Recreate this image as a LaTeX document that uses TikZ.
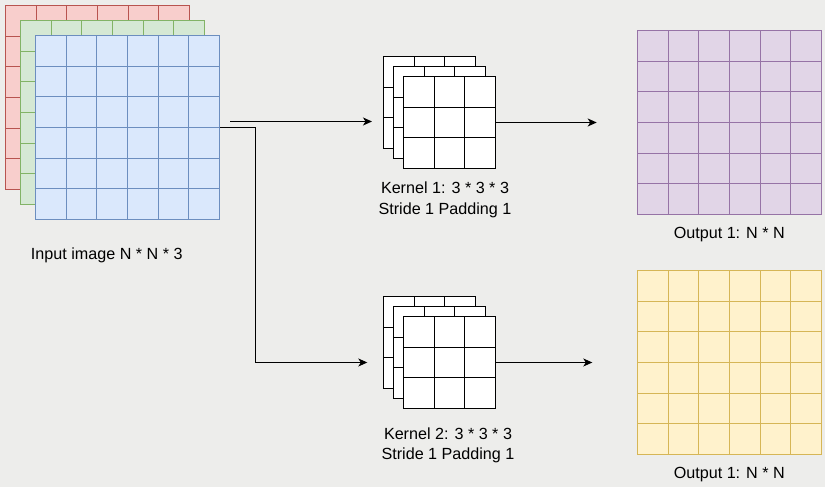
\documentclass[tikz,border=0pt]{standalone}
\usepackage{fontspec}
\setmainfont{Liberation Sans}
\usetikzlibrary{calc,arrows.meta}
\definecolor{bgcol}{RGB}{237,237,235}
\definecolor{redfill}{HTML}{F8CECC}\definecolor{redline}{HTML}{B85450}
\definecolor{greenfill}{HTML}{D5E8D4}\definecolor{greenline}{HTML}{82B366}
\definecolor{bluefill}{HTML}{DAE8FC}\definecolor{blueline}{HTML}{6C8EBF}
\definecolor{purplefill}{HTML}{E1D5E7}\definecolor{purpleline}{HTML}{9673A6}
\definecolor{yellowfill}{HTML}{FFF2CC}\definecolor{yellowline}{HTML}{D6B656}
% grid lines inside a named node, snapped to pixel centres
\newcommand\cellgrid[3]{%
  \pgfpointanchor{#1}{south west}\pgfgetlastxy{\gl}{\gb}%
  \pgfpointanchor{#1}{north east}\pgfgetlastxy{\gr}{\gt}%
  \pgfmathtruncatemacro\lastk{#2-1}%
  \foreach \k in {1,...,\lastk}{%
    \pgfmathsetmacro\gx{(floor((\gl+\k*(\gr-\gl)/#2)/1.00375)+0.5)*1.00375}%
    \pgfmathsetmacro\gy{(floor((\gb+\k*(\gt-\gb)/#2)/1.00375)+0.5)*1.00375}%
    \draw[draw=#3, line width=1.35bp] (\gx pt,\gb) -- (\gx pt,\gt);
    \draw[draw=#3, line width=1.35bp] (\gl,\gy pt) -- (\gr,\gy pt);
  }}
\tikzset{
  bigmap/.style n args={2}{shape=rectangle, draw=#1, fill=#2, line width=1.35bp,
    minimum size=184bp, inner sep=0pt, outer sep=0pt},
  kernel/.style={shape=rectangle, draw=black, fill=white, line width=1.35bp,
    minimum size=92bp, inner sep=0pt, outer sep=0pt},
  lbl/.style={font=\fontsize{16.2}{21}\selectfont, align=center, inner sep=0pt, text=black},
  arr/.style={line width=1.1bp, -{Stealth[length=9bp,width=8bp,inset=2.5bp]}}
}
\begin{document}
\begin{tikzpicture}[x=1bp,y=1bp]
  \fill[bgcol] (0,0) rectangle (825,487);
  \useasboundingbox (0,0) rectangle (825,487);

  % input image
  \node[bigmap={redline}{redfill}]     (red)   at (97.5,389.5) {};
  \cellgrid{red}{6}{redline}
  \node[bigmap={greenline}{greenfill}] (green) at (112.5,374.5) {};
  \cellgrid{green}{6}{greenline}
  \node[bigmap={blueline}{bluefill}]   (blue)  at (127.5,359.5) {};
  \cellgrid{blue}{6}{blueline}
  \node[lbl] (inlbl) at (106.8,231.3) {Input image N * N * 3};

  % kernel 1
  \node[kernel] (k1a) at (429.5,384.5) {};
  \cellgrid{k1a}{3}{black}
  \node[kernel] (k1b) at (439.5,374.5) {};
  \cellgrid{k1b}{3}{black}
  \node[kernel] (k1c) at (449.5,364.5) {};
  \cellgrid{k1c}{3}{black}
  \node[lbl] (k1lbl) at (445,287.5) {Kernel 1: 3 * 3 * 3\\Stride 1 Padding 1};

  % kernel 2
  \node[kernel] (k2a) at (429.5,144.5) {};
  \cellgrid{k2a}{3}{black}
  \node[kernel] (k2b) at (439.5,134.5) {};
  \cellgrid{k2b}{3}{black}
  \node[kernel] (k2c) at (449.5,124.5) {};
  \cellgrid{k2c}{3}{black}
  \node[lbl] (k2lbl) at (448,41.7) {Kernel 2: 3 * 3 * 3\\Stride 1 Padding 1};

  % outputs
  \node[bigmap={purpleline}{purplefill}] (out1) at (729.5,364.5) {};
  \cellgrid{out1}{6}{purpleline}
  \node[lbl] (out1lbl) at (729.3,252) {Output 1: N * N};
  \node[bigmap={yellowline}{yellowfill}] (out2) at (729.5,124.5) {};
  \cellgrid{out2}{6}{yellowline}
  \node[lbl] (out2lbl) at (729.3,12) {Output 1: N * N};

  % connectors
  \coordinate (s1) at (230,365.5);
  \coordinate (e1) at (372,365.5);
  \draw[arr] (s1) -- (e1);

  \coordinate (b2) at (255.5,124.5);
  \coordinate (e2) at (367.3,124.5);
  \draw[arr] (blue.east) -| (b2) -- (e2);

  \coordinate (e3) at (596.7,364.5);
  \draw[arr] (k1c.east) -- (e3);
  \coordinate (e4) at (592.3,124.5);
  \draw[arr] (k2c.east) -- (e4);
\end{tikzpicture}
\end{document}
